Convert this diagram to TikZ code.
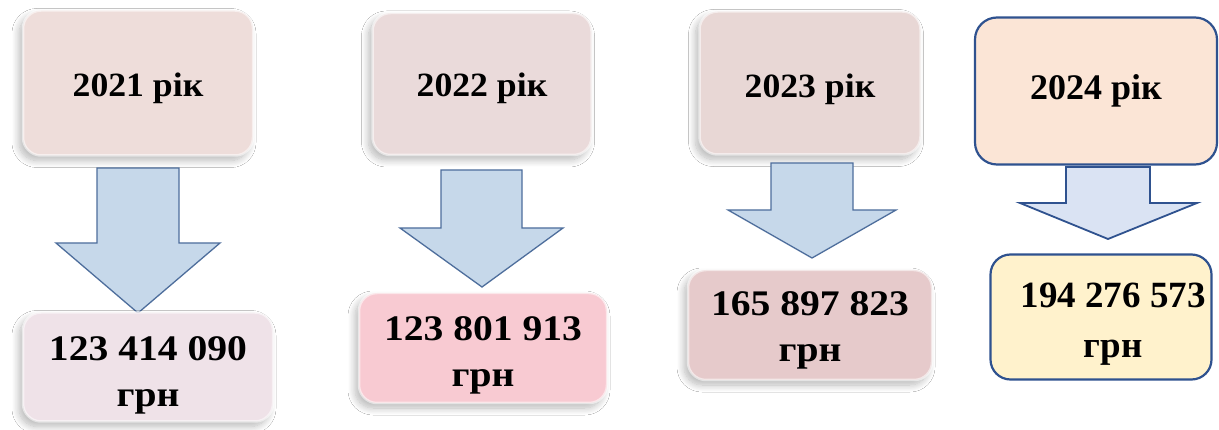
\documentclass[tikz,border=0pt]{standalone}
\usepackage{fontspec}
\usepackage{graphicx}
\setmainfont{Liberation Serif}
\usetikzlibrary{shadows.blur}
\definecolor{boxAt}{HTML}{EEDDDA}
\definecolor{boxAb}{HTML}{EFE2E8}
\definecolor{boxBt}{HTML}{EADADA}
\definecolor{boxBb}{HTML}{F8CAD2}
\definecolor{boxCt}{HTML}{E8D7D5}
\definecolor{boxCb}{HTML}{E6CACB}
\definecolor{boxDt}{HTML}{FBE5D6}
\definecolor{boxDb}{HTML}{FFF2CC}
\definecolor{arrfill}{HTML}{C6D8EA}
\definecolor{arrline}{HTML}{4E6E9C}
\definecolor{arrfillD}{HTML}{DAE3F3}
\definecolor{blueline}{HTML}{2F528F}
% #1 = downward shift, #2 = text
\newcommand{\stretchtxt}[2]{\raisebox{-#1}[\height][\depth]{\scalebox{1.1}[1]{#2}}}
\newcommand{\yeartext}[2]{\raisebox{-#1}[\height][\depth]{\scalebox{1.05}[1]{#2}}}
\tikzset{
  softbox/.style={rounded corners=18pt, inner sep=0pt, align=center,
    draw=white, draw opacity=0.55, line width=2.5pt,
    blur shadow={shadow xshift=-4pt, shadow yshift=-5pt, shadow blur steps=12, shadow opacity=28, shadow blur radius=7pt},
    font=\bfseries},
  bluebox/.style={rounded corners=22pt, inner sep=0pt, align=center,
    draw=blueline, line width=2.2pt, font=\bfseries},
  blockarr/.style={fill=arrfill, draw=arrline, line width=1.3pt, line join=miter},
  blockarrD/.style={fill=arrfillD, draw=blueline, line width=1.8pt, line join=miter},
  yeartxt/.style={font=\fontsize{34}{40}\selectfont\bfseries},
  sumtxt/.style={font=\fontsize{36}{46}\selectfont\bfseries}
}
\begin{document}
\begin{tikzpicture}[x=1pt,y=-1pt]
\useasboundingbox[fill=white] (0,0) rectangle (1219,430);

% column 1
\node[softbox, fill=boxAt, minimum width=230pt, minimum height=145pt, yeartxt] (t1) at (138,83) {\yeartext{5pt}{2021 рік}};
\draw[blockarr] (97,168) -- (179,168) -- (179,243) -- (220,243) -- (138,313) -- (56,243) -- (97,243) -- cycle;
\node[softbox, fill=boxAb, minimum width=250pt, minimum height=109pt, sumtxt] (b1) at (148,367) {\stretchtxt{8pt}{123 414 090}\\\stretchtxt{8pt}{грн}};

% column 2
\node[softbox, fill=boxBt, minimum width=219pt, minimum height=142pt, yeartxt] (t2) at (482,84) {\yeartext{4pt}{2022 рік}};
\draw[blockarr] (441,170) -- (522,170) -- (522,228) -- (563,228) -- (482,287) -- (400,228) -- (441,228) -- cycle;
\node[softbox, fill=boxBb, minimum width=248pt, minimum height=110pt, sumtxt] (b2) at (483,348) {\stretchtxt{7pt}{123 801 913}\\\stretchtxt{7pt}{грн}};

% column 3
\node[softbox, fill=boxCt, minimum width=221pt, minimum height=143pt, yeartxt] (t3) at (810,83) {\yeartext{6pt}{2023 рік}};
\draw[blockarr] (771,163) -- (853,163) -- (853,210) -- (896,210) -- (812,258) -- (728,210) -- (771,210) -- cycle;
\node[softbox, fill=boxCb, minimum width=244pt, minimum height=110pt, sumtxt] (b3) at (810,325) {\stretchtxt{5pt}{165 897 823}\\\stretchtxt{5pt}{грн}};

% column 4
\node[bluebox, fill=boxDt, minimum width=242pt, minimum height=147pt, font=\fontsize{36}{42}\selectfont\bfseries] (t4) at (1096,91) {2024 рік};
\draw[blockarrD] (1066,167) -- (1150,167) -- (1150,203) -- (1197,203) -- (1108,239) -- (1020,203) -- (1066,203) -- cycle;
\node[bluebox, fill=boxDb, minimum width=221pt, minimum height=125pt, rounded corners=20pt] (b4) at (1101,317) {};
\node[font=\fontsize{37}{50}\selectfont\bfseries, align=center, inner sep=0pt] (b4txt) at (1113,324) {194 276 573\\грн};
\end{tikzpicture}
\end{document}
